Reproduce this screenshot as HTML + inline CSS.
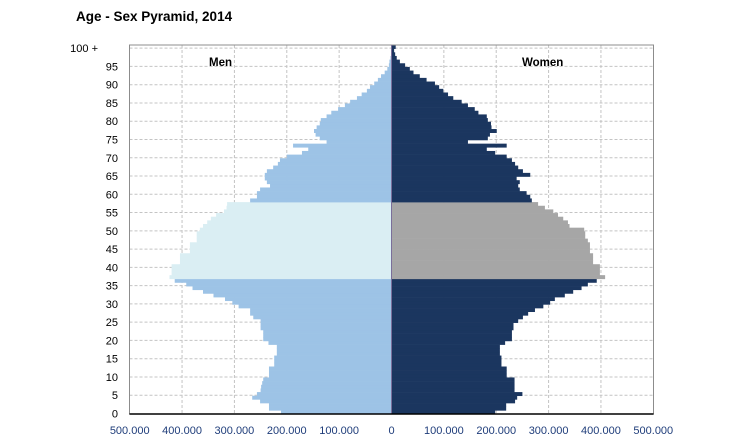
<!DOCTYPE html>
<html><head><meta charset="utf-8"><style>
body{margin:0;background:#fff;}
svg{display:block;font-family:"Liberation Sans",sans-serif;}
</style></head><body>
<svg id="chart" width="731" height="447" viewBox="0 0 731 447">
<text x="76" y="21" font-size="13.5" font-weight="bold" fill="#000">Age - Sex Pyramid, 2014</text>
<g id="grid"></g>
<g id="bars"></g>
<g id="axes"></g>
<text x="209" y="66" font-size="11.5" font-weight="bold">Men</text>
<text x="522" y="66" font-size="11.5" font-weight="bold">Women</text>
</svg>
<script>
const ages = Array.from({length:101},(_,i)=>i);
const men = [211,234,234,251,266,257,250,249,247,245,234,234,234,224,224,224,219,219,219,235,245,245,245,250,250,250,264,270,270,292,304,318,340,360,380,392,414,424,420,420,420,404,404,404,385,385,385,372,372,372,366,360,352,345,335,320,315,314,270,257,257,251,232,238,242,242,238,226,217,213,200,171,159,188,124,137,145,148,143,137,135,124,115,102,89,79,66,57,47,41,33,26,20,13,8,5,4,2,1,1,1];
const women = [198,219,219,236,240,250,235,235,235,235,220,220,220,210,210,210,207,207,207,217,230,230,230,233,233,242,251,261,274,290,303,312,331,347,363,375,392,408,398,398,398,385,385,385,379,379,379,375,370,370,368,340,337,328,318,309,293,280,268,265,258,245,242,245,239,265,251,242,236,230,220,198,182,220,146,184,188,201,191,190,184,182,166,159,146,134,118,108,99,91,83,67,54,42,35,26,16,10,7,5,8];
const xTicks = [-500,-400,-300,-200,-100,0,100,200,300,400,500];
const xTickLabels = ["500.000","400.000","300.000","200.000","100.000","0","100.000","200.000","300.000","400.000","500.000"];
const yTicks = [0,5,10,15,20,25,30,35,40,45,50,55,60,65,70,75,80,85,90,95];
const highlightFrom = 37, highlightTo = 57;

const NS="http://www.w3.org/2000/svg";
const X0=391.5, PX=0.5236, LEFT=129.5, RIGHT=653.5, BOTTOM=414, TOP=45;
const xs = v => X0 + v*PX;
const BH = (BOTTOM-TOP)/101;
const yb = a => BOTTOM - a*BH;
function mk(tag, parent, attrs){const e=document.createElementNS(NS,tag);for(const k in attrs)e.setAttribute(k,attrs[k]);parent.appendChild(e);return e;}
const grid=document.getElementById('grid'), bars=document.getElementById('bars'), axes=document.getElementById('axes');

xTicks.forEach((t,i)=>{
  if(t!==0 && Math.abs(t)!==500){
    const l=mk('line',grid,{x1:xs(t),x2:xs(t),y1:TOP,y2:BOTTOM,stroke:'#c4c4c4','stroke-dasharray':'3,2','stroke-width':1});
    
    
  }
  const tx=mk('text',axes,{x:xs(t),y:434,'font-size':11,'text-anchor':'middle',fill:'#1f3d7a'});
  tx.textContent=xTickLabels[i];
  
  
});
yTicks.concat([100]).forEach(a=>{
  const y=yb(a)-0.5;
  if(a>0){
    const l=mk('line',grid,{x1:LEFT,x2:RIGHT,y1:y,y2:y,stroke:'#c4c4c4','stroke-dasharray':'3,2','stroke-width':1});
    
    
  }
  const tx=mk('text',axes,{x:a===100?98:118,y:y+4,'font-size':11,'text-anchor':'end',fill:'#000'});
  tx.textContent = a===100 ? '100 +' : String(a);
  
  
});

ages.forEach((a,i)=>{
  const hl = a>=highlightFrom && a<=highlightTo;
  const y=yb(a+1), h=BH+0.3;
  const m=mk('rect',bars,{x:xs(-men[i]),y:y,width:men[i]*PX,height:h,fill:hl?'#daeef3':'#9dc3e6'});
  
  
  const w=mk('rect',bars,{x:X0,y:y,width:women[i]*PX,height:h,fill:hl?'#a6a6a6':'#1b365f'});
  
  
});

const frame=mk('rect',axes,{x:LEFT,y:TOP,width:RIGHT-LEFT,height:BOTTOM-TOP,fill:'none',stroke:'#8c8c8c','stroke-width':1});


const zl=mk('line',axes,{x1:X0,x2:X0,y1:TOP,y2:BOTTOM,stroke:'#7a6e9a','stroke-width':1});


const xa=mk('line',axes,{x1:LEFT,x2:RIGHT,y1:BOTTOM,y2:BOTTOM,stroke:'#000','stroke-width':1.5});


</script>
</body></html>
